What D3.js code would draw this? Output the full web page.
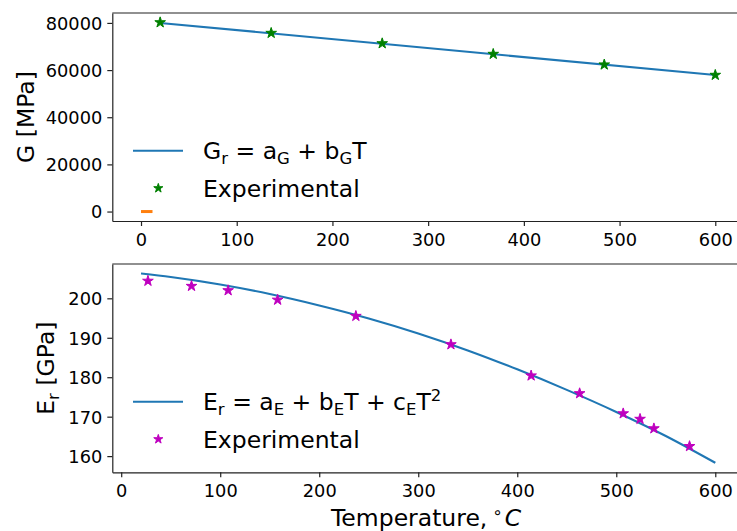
<!DOCTYPE html>
<html>
<head>
<meta charset="utf-8">
<script src="https://cdn.jsdelivr.net/npm/d3@7"></script>
<style>
  body { margin: 0; background: #fff; }
  svg { display: block; font-family: "DejaVu Sans", sans-serif; }
  .axis text { font-size: 17.8px; fill: #000; font-family: "DejaVu Sans", sans-serif; }
  .axis path, .axis line { stroke: #222; stroke-width: 1.2; }
  .label { font-size: 23.5px; fill: #000; }
</style>
</head>
<body>
<div id="chart"></div>
<script>
/* DATA */
// shear modulus, top panel
const gTemp = [20, 136, 252, 368, 484, 600];
const gExp = [80200, 75700, 71300, 66800, 62300, 57900];
const gFitTemp = [20, 600];
const gFit = [80000, 57900];
const zeroTemp = [0, 12];
const zeroVal = [0, 0];

// Young's modulus, bottom panel
const eTemp = [27, 71, 108, 158, 237, 333, 414, 463, 507, 524, 538, 574];
const eExp = [204.4, 203.1, 202.0, 199.6, 195.5, 188.3, 180.4, 175.9, 170.8, 169.4, 167.0, 162.5];
const eFitTemp = [20, 50, 100, 150, 200, 250, 300, 350, 400, 450, 500, 550, 600];
const eFit = [206.3, 205.4, 203.5, 201.1, 198.2, 194.9, 191.1, 186.8, 182.0, 176.8, 171.2, 165.1, 158.3];

const xTicks = [0, 100, 200, 300, 400, 500, 600];
const gTicks = [0, 20000, 40000, 60000, 80000];
const eTicks = [160, 170, 180, 190, 200];

/* CONSTANTS */
const width = 737, height = 531;
const blue = "#1f77b4", green = "#008000", magenta = "#bf00bf", orange = "#ff7f0e";
const top1 = { left: 112.3, right: 744, top: 13, bottom: 221 };
const bot1 = { left: 112.3, right: 744, top: 264, bottom: 472.3 };

// matplotlib-style 5% margins
function padded(values) {
  const [lo, hi] = d3.extent(values);
  const p = (hi - lo) * 0.05;
  return [lo - p, hi + p];
}

const zip = (xs, ys) => xs.map((x, i) => [x, ys[i]]);

const svg = d3.select("#chart")
  .append("svg")
  .attr("width", width)
  .attr("height", height);

const star = r => d3.symbol(d3.symbolStar, r * r / 0.8908130915292852)();

function panel(box, xDomain, yDomain, yTicks, yFormat) {
  const x = d3.scaleLinear().domain(xDomain).range([box.left, box.right]);
  const y = d3.scaleLinear().domain(yDomain).range([box.bottom, box.top]);

  svg.append("g")
    .attr("class", "axis")
    .attr("transform", `translate(0,${box.bottom})`)
    .call(d3.axisBottom(x).tickValues(xTicks).tickSize(5).tickSizeOuter(0).tickPadding(7).tickFormat(d3.format("d")));

  svg.append("g")
    .attr("class", "axis")
    .attr("transform", `translate(${box.left},0)`)
    .call(d3.axisLeft(y).tickValues(yTicks).tickSize(5).tickSizeOuter(0).tickPadding(5).tickFormat(yFormat))
    .selectAll("text").attr("dy", "0.36em");

  // top and right spines
  svg.append("line")
    .attr("x1", box.left).attr("x2", box.right)
    .attr("y1", box.top).attr("y2", box.top)
    .attr("stroke", "#222").attr("stroke-width", 1.2);
  svg.append("line")
    .attr("x1", box.right).attr("x2", box.right)
    .attr("y1", box.top).attr("y2", box.bottom)
    .attr("stroke", "#222").attr("stroke-width", 1.2);

  return { x, y };
}

/* TOP PANEL */
const gAll = gExp.concat(gFit, zeroVal);
const tAll = gTemp.concat(gFitTemp, zeroTemp);
const p1 = panel(top1, padded(tAll), padded(gAll), gTicks, d3.format("d"));

const line1 = d3.line().x(d => p1.x(d[0])).y(d => p1.y(d[1]));

svg.append("path")
  .datum(zip(zeroTemp, zeroVal))
  .attr("d", line1)
  .attr("fill", "none")
  .attr("stroke", orange)
  .attr("stroke-width", 3);

svg.append("path")
  .datum(zip(gFitTemp, gFit))
  .attr("d", line1)
  .attr("fill", "none")
  .attr("stroke", blue)
  .attr("stroke-width", 2.1);

svg.selectAll(".gstar")
  .data(zip(gTemp, gExp))
  .join("path")
  .attr("class", "gstar")
  .attr("transform", d => `translate(${p1.x(d[0])},${p1.y(d[1])})`)
  .attr("d", star(5.6))
  .attr("fill", green)
  .attr("stroke", green)
  .attr("stroke-width", 1);

/* BOTTOM PANEL */
const p2 = panel(bot1, padded(eTemp.concat(eFitTemp)), padded(eExp.concat(eFit)), eTicks, d3.format("d"));

const line2 = d3.line().x(d => p2.x(d[0])).y(d => p2.y(d[1])).curve(d3.curveMonotoneX);

svg.append("path")
  .datum(zip(eFitTemp, eFit))
  .attr("d", line2)
  .attr("fill", "none")
  .attr("stroke", blue)
  .attr("stroke-width", 2.1);

svg.selectAll(".estar")
  .data(zip(eTemp, eExp))
  .join("path")
  .attr("class", "estar")
  .attr("transform", d => `translate(${p2.x(d[0])},${p2.y(d[1])})`)
  .attr("d", star(5.6))
  .attr("fill", magenta)
  .attr("stroke", magenta)
  .attr("stroke-width", 1);

/* AXIS LABELS */
svg.append("text")
  .attr("class", "label")
  .attr("transform", `translate(34,${(top1.top + top1.bottom) / 2}) rotate(-90)`)
  .attr("text-anchor", "middle")
  .text("G [MPa]");

const eLab = svg.append("text")
  .attr("class", "label")
  .attr("transform", `translate(54,${(bot1.top + bot1.bottom) / 2}) rotate(-90)`)
  .attr("text-anchor", "middle");
eLab.append("tspan").text("E");
eLab.append("tspan").attr("font-size", "16.5px").attr("dy", 5).text("r");
eLab.append("tspan").attr("dy", -5).text(" [GPa]");

const xLab = svg.append("text")
  .attr("class", "label")
  .attr("x", 331)
  .attr("y", 525.5);
xLab.append("tspan").text("Temperature,");
xLab.append("tspan").attr("font-size", "16.5px").attr("dx", 5).attr("dy", -8).text("\u2218");
xLab.append("tspan").attr("font-style", "italic").attr("dx", 2).attr("dy", 8).text("C");

/* LEGENDS */
// pieces: [text, "n" normal | "s" subscript | "p" superscript]
const gLegend = [["G", "n"], ["r", "s"], [" = a", "n"], ["G", "s"], [" + b", "n"], ["G", "s"], ["T", "n"]];
const eLegend = [["E", "n"], ["r", "s"], [" = a", "n"], ["E", "s"], [" + b", "n"], ["E", "s"], ["T + c", "n"], ["E", "s"], ["T", "n"], ["2", "p"]];

function legend(rowY, pieces, color) {
  svg.append("line")
    .attr("x1", 133).attr("x2", 183)
    .attr("y1", rowY).attr("y2", rowY)
    .attr("stroke", blue).attr("stroke-width", 2.1);

  const t = svg.append("text")
    .attr("class", "label")
    .attr("x", 203)
    .attr("y", rowY + 8.5);
  let shift = 0;
  pieces.forEach(([s, k]) => {
    const target = k === "s" ? 5 : k === "p" ? -9 : 0;
    t.append("tspan")
      .attr("font-size", k === "n" ? null : "16.5px")
      .attr("dy", target - shift)
      .text(s);
    shift = target;
  });

  const row2 = rowY + 37.5;
  svg.append("path")
    .attr("transform", `translate(158.3,${row2})`)
    .attr("d", star(4.8))
    .attr("fill", color)
    .attr("stroke", color)
    .attr("stroke-width", 1);
  svg.append("text")
    .attr("class", "label")
    .attr("x", 203)
    .attr("y", row2 + 8.5)
    .text("Experimental");
}

legend(150.7, gLegend, green);
legend(401.7, eLegend, magenta);
</script>
</body>
</html>
